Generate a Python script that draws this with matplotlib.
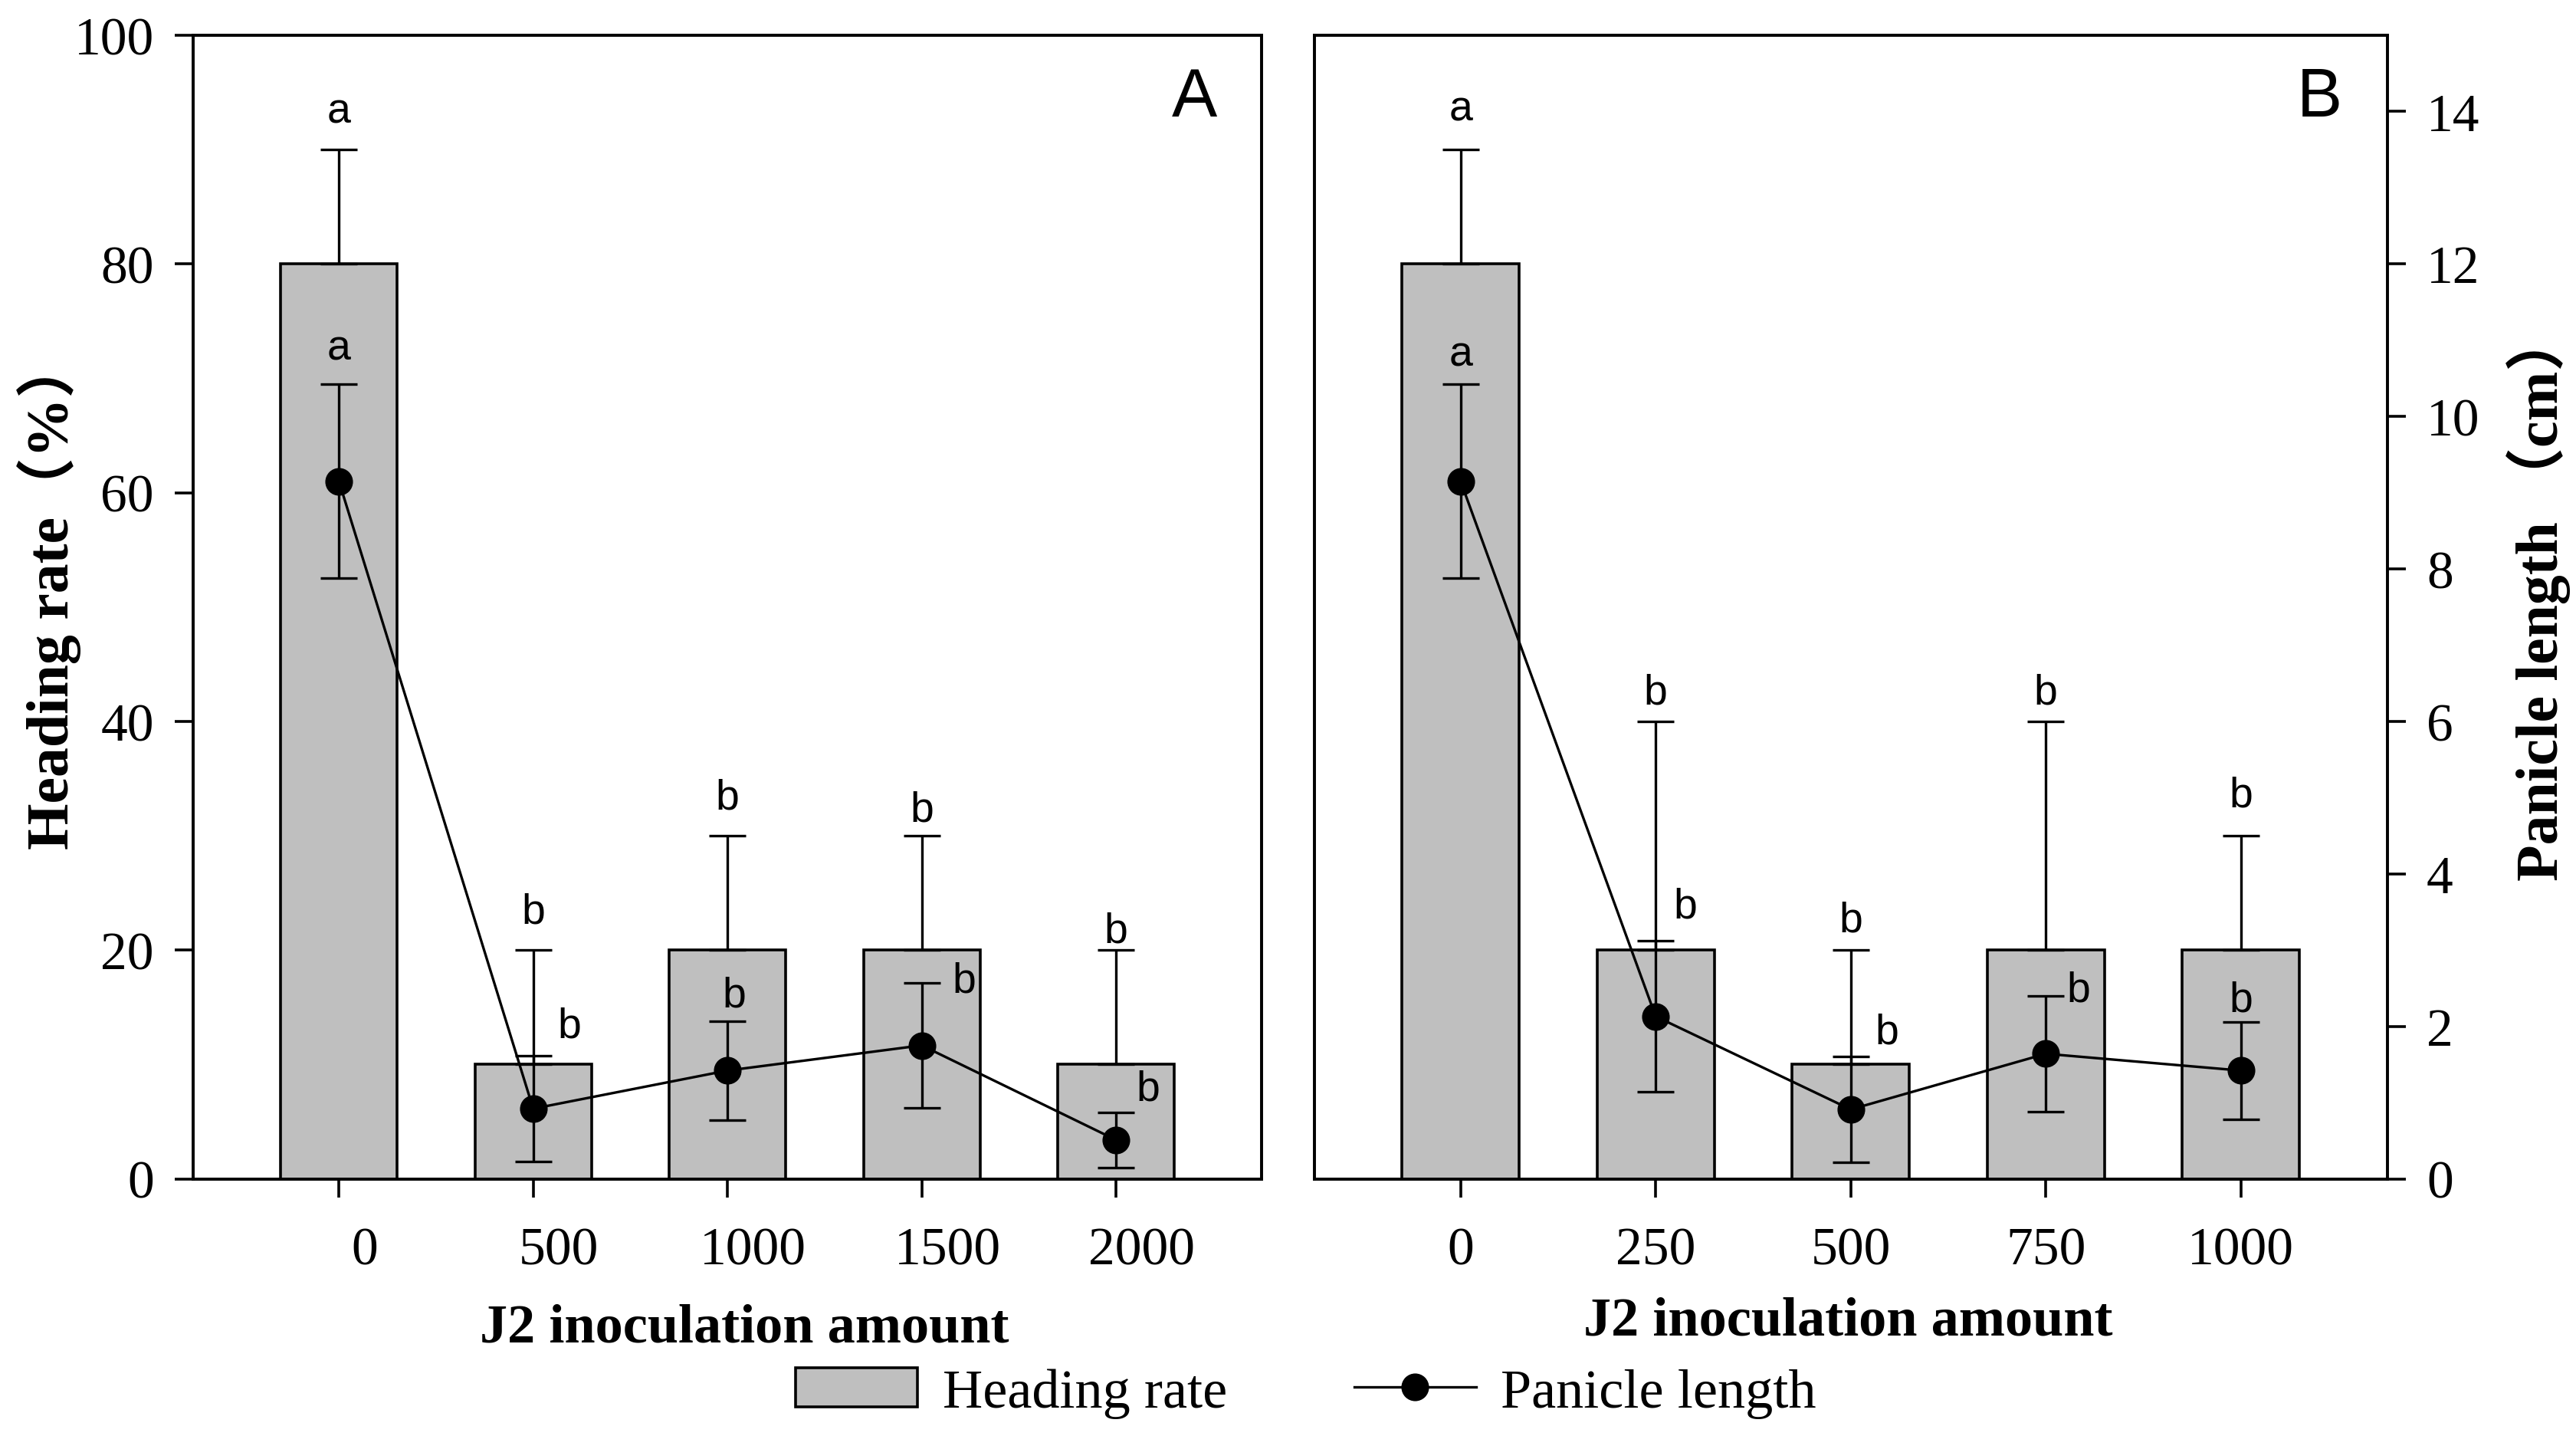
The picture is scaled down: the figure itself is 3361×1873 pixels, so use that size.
import matplotlib
matplotlib.use('Agg')
import matplotlib.pyplot as plt
import matplotlib.transforms as mtransforms
from matplotlib.patches import Patch
from matplotlib.lines import Line2D
import numpy as np

# ---------------- data ----------------
doses_A = ['0', '500', '1000', '1500', '2000']
heading_A = [80, 10, 20, 20, 10]
heading_err_A = [10, 10, 10, 10, 10]
panicle_A = [9.15, 0.92, 1.42, 1.75, 0.51]
panicle_err_A = [1.27, 0.69, 0.65, 0.82, 0.36]
heading_sig_A = ['a', 'b', 'b', 'b', 'b']
panicle_sig_A = ['a', 'b', 'b', 'b', 'b']

doses_B = ['0', '250', '500', '750', '1000']
heading_B = [80, 20, 10, 20, 20]
heading_err_B = [10, 20, 10, 20, 10]
panicle_B = [9.15, 2.13, 0.91, 1.64, 1.42]
panicle_err_B = [1.27, 0.99, 0.69, 0.76, 0.64]
heading_sig_B = ['a', 'b', 'b', 'b', 'b']
panicle_sig_B = ['a', 'b', 'b', 'b', 'b']

left_ticks = [0, 20, 40, 60, 80, 100]
right_ticks = [0, 2, 4, 6, 8, 10, 12, 14]

# letter offsets (points) relative to top of error bar
h_dy_A = [18, 18, 18, 12, 9]
h_dy_B = [19, 13.5, 14, 13.5, 19]
p_off_A = [(0, 17), (17, 14), (3, 12), (20, 1), (15, 11)]
p_off_B = [(0, 14), (14, 16), (17, 11.5), (15.5, 2.5), (0, 10)]

SERIF = 'Liberation Serif'
SANS = 'Liberation Sans'
LBL_FAM = ['Liberation Serif', 'Noto Sans CJK SC']
BAR_COLOR = '#bfbfbf'
LW = 1.3
TICK_FS = 25

fig = plt.figure(figsize=(3361 / 200, 1874 / 200), dpi=200)
axA = fig.add_axes([0.0750, 0.179, 0.4148, 0.796])
axB = fig.add_axes([0.5102, 0.179, 0.4165, 0.796])


def draw_panel(ax, doses, heading, herr, panicle, perr, hsig, psig,
               h_dy, p_off, letter, show_left, show_right, shift_pts):
    x = np.arange(len(doses))
    ax.bar(x, heading, width=0.6, color=BAR_COLOR, edgecolor='black',
           linewidth=LW, zorder=2)
    ax.errorbar(x, heading, yerr=[np.zeros(len(x)), herr], fmt='none',
                ecolor='black', elinewidth=1.2, capsize=8.5, capthick=1.2,
                zorder=3)
    ax.set_xlim(-0.75, len(doses) - 0.25)
    ax.set_ylim(0, 100)
    ax.set_xticks(x)
    ax.set_xticklabels(doses, fontfamily=SERIF, fontsize=TICK_FS)
    ax.tick_params(axis='x', direction='out', length=8.5, width=LW, pad=14)
    if show_left:
        ax.set_yticks(left_ticks)
        ax.set_yticklabels([str(t) for t in left_ticks], fontfamily=SERIF,
                           fontsize=TICK_FS)
        ax.tick_params(axis='y', direction='out', length=8.5, width=LW, pad=10)
    else:
        ax.set_yticks([])
    for s in ax.spines.values():
        s.set_linewidth(LW)
    if shift_pts:
        off = mtransforms.ScaledTranslation(shift_pts / 72, 0,
                                            fig.dpi_scale_trans)
        for lab in ax.get_xticklabels():
            lab.set_transform(lab.get_transform() + off)
    for i in range(len(x)):
        ax.annotate(hsig[i], xy=(x[i], heading[i] + herr[i]),
                    xytext=(0, h_dy[i]), textcoords='offset points',
                    ha='center', va='center', fontfamily=SANS, fontsize=20,
                    zorder=5)

    tw = ax.twinx()
    tw.set_ylim(0, 15)
    tw.errorbar(x, panicle, yerr=perr, fmt='o-', color='black',
                markersize=12, linewidth=1.2, elinewidth=1.2, capsize=8.5,
                capthick=1.2, zorder=4)
    for s in tw.spines.values():
        s.set_linewidth(LW)
    if show_right:
        tw.set_yticks(right_ticks)
        tw.set_yticklabels([str(t) for t in right_ticks], fontfamily=SERIF,
                           fontsize=TICK_FS)
        tw.tick_params(axis='y', direction='out', length=8.5, width=LW, pad=10)
    else:
        tw.set_yticks([])
    for i in range(len(x)):
        dx, dy = p_off[i]
        tw.annotate(psig[i], xy=(x[i], panicle[i] + perr[i]),
                    xytext=(dx, dy), textcoords='offset points',
                    ha='center', va='center', fontfamily=SANS, fontsize=20,
                    zorder=5)
    ax.text(0.937, 0.945, letter, transform=ax.transAxes, ha='center',
            va='center', fontfamily=SANS, fontsize=32)
    return tw


draw_panel(axA, doses_A, heading_A, heading_err_A, panicle_A, panicle_err_A,
           heading_sig_A, panicle_sig_A, h_dy_A, p_off_A, 'A', True, False, 12)
draw_panel(axB, doses_B, heading_B, heading_err_B, panicle_B, panicle_err_B,
           heading_sig_B, panicle_sig_B, h_dy_B, p_off_B, 'B', False, True, 0)

fig.text(0.289, 0.0755, 'J2 inoculation amount', ha='center', va='center',
         fontfamily=SERIF, fontweight='bold', fontsize=26)
fig.text(0.7175, 0.080, 'J2 inoculation amount', ha='center', va='center',
         fontfamily=SERIF, fontweight='bold', fontsize=26)
fig.text(0.019, 0.587, 'Heading rate（%）', rotation=90, ha='center',
         va='center', fontfamily=LBL_FAM, fontweight='bold', fontsize=28)
fig.text(0.9853, 0.585, 'Panicle length （cm）', rotation=90, ha='center',
         va='center', fontfamily=LBL_FAM, fontweight='bold', fontsize=28)

handles = [Patch(facecolor=BAR_COLOR, edgecolor='black', linewidth=LW),
           Line2D([], [], color='black', marker='o', markersize=12,
                  linewidth=1.2)]
fig.legend(handles, ['Heading rate', 'Panicle length'], loc='center',
           bbox_to_anchor=(0.507, 0.03), ncol=2, frameon=False,
           prop={'family': SERIF, 'size': 26}, handlelength=2.2,
           columnspacing=2.3, handletextpad=0.45)

fig.savefig('out.png', dpi=200)
